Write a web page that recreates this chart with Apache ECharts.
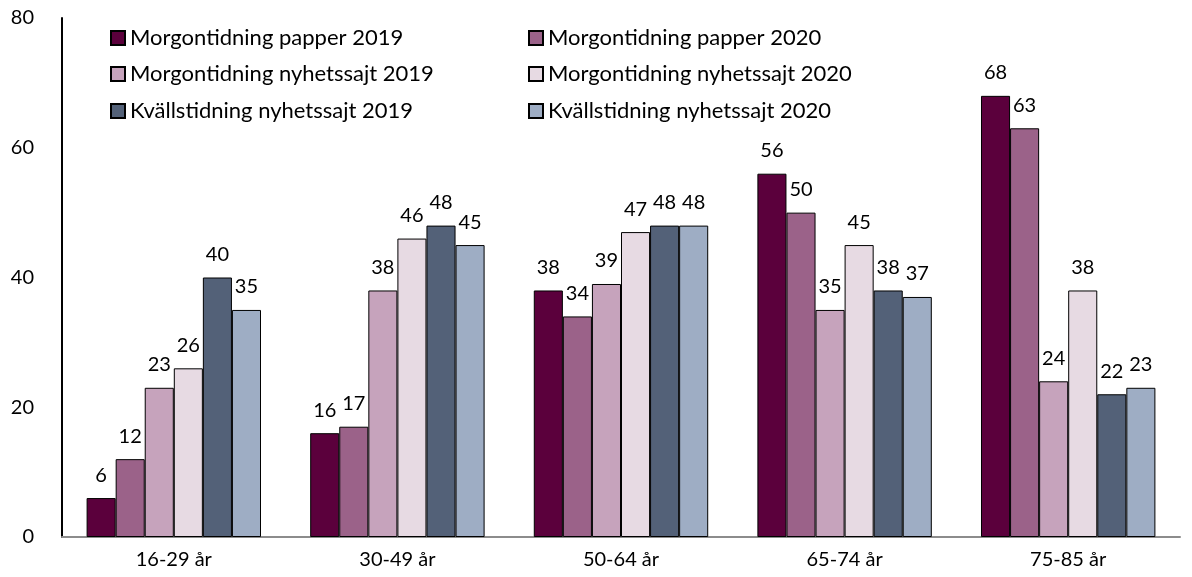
<!DOCTYPE html>
<html><head><meta charset="utf-8">
<script src="https://cdn.jsdelivr.net/npm/echarts@6/dist/echarts.min.js"></script>
<style>html,body{margin:0;padding:0;background:#fff}#c{width:1192px;height:577px}</style>
</head><body><div id="c"></div>
<script>
const categories = ['16-29 år','30-49 år','50-64 år','65-74 år','75-85 år'];
const seriesNames = ['Morgontidning papper 2019','Morgontidning papper 2020','Morgontidning nyhetssajt 2019','Morgontidning nyhetssajt 2020','Kvällstidning nyhetssajt 2019','Kvällstidning nyhetssajt 2020'];
const mp2019 = [6,16,38,56,68];
const mp2020 = [12,17,34,50,63];
const mn2019 = [23,38,39,35,24];
const mn2020 = [26,46,47,45,38];
const kn2019 = [40,48,48,38,22];
const kn2020 = [35,45,48,37,23];
const yTicks = [0,20,40,60,80];
const colors = ['#5b003c','#9b6289','#c6a3bc','#e7dae3','#536178','#9eadc4'];
const values = [mp2019,mp2020,mn2019,mn2020,kn2019,kn2020];
const font = 'Lato, "Open Sans", sans-serif';
const legendPos = [[105,22],[523,22],[105,58],[523,58],[105,95],[523,95]];
const chart = echarts.init(document.getElementById('c'));
chart.setOption({
  animation:false,
  color:colors,
  textStyle:{fontFamily:font},
  grid:{left:62,right:12,top:18,bottom:40,containLabel:false},
  legend: seriesNames.map((n,i)=>({
    data:[n], left:legendPos[i][0], top:legendPos[i][1],
    itemWidth:14, itemHeight:14, itemGap:6,
    textStyle:{fontFamily:font,fontSize:22,color:'#000'},
    icon:'rect'
  })),
  xAxis:{type:'category',data:categories,
    axisLine:{lineStyle:{color:'#8c8c8c',width:2}},
    axisTick:{show:false},
    axisLabel:{fontSize:20,color:'#000',margin:13,fontFamily:font}},
  yAxis:{type:'value',min:0,max:80,interval:20,
    axisLine:{show:true,lineStyle:{color:'#000',width:2}},
    splitLine:{show:false},
    axisTick:{show:false},
    axisLabel:{fontSize:20,color:'#000',margin:28,fontFamily:font,
      formatter:v=>yTicks.includes(v)?String(v):''}},
  series: seriesNames.map((n,i)=>({
    name:n,type:'bar',data:values[i],
    barGap:'0%',barCategoryGap:'22%',
    itemStyle:{color:colors[i],borderColor:'#000',borderWidth:1},
    label:{show:true,position:'top',fontSize:20,color:'#000',distance:13,fontFamily:font}
  }))
});
</script></body></html>
